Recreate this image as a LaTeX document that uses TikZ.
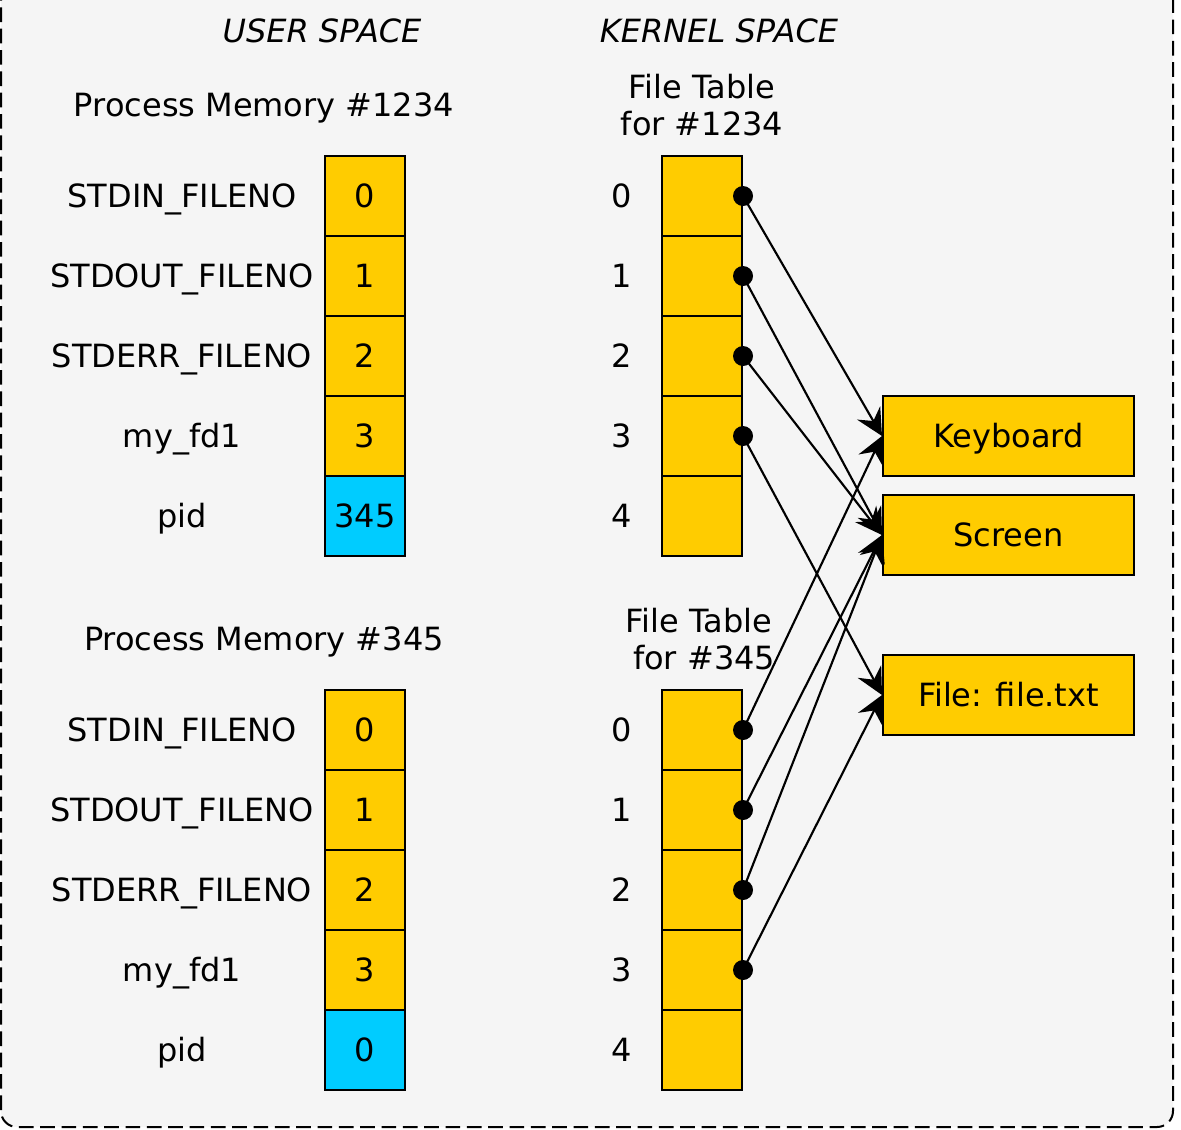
\documentclass[tikz,border=0pt]{standalone}
\usepackage{fontspec}
\setmainfont{DejaVu Sans}
\usetikzlibrary{arrows.meta}
\definecolor{bggray}{HTML}{F5F5F5}
\definecolor{cellyel}{HTML}{FFCC00}
\definecolor{cellcyan}{HTML}{00CCFF}
\tikzset{
  conn/.style={line width=1.6pt, arrows={-Stealth[length=20pt, width=20pt, inset=7pt]}}
}
\begin{document}
\begin{tikzpicture}[x=0.75pt,y=-0.75pt,
  font=\fontsize{24}{28}\selectfont,
  cell/.style={draw, line width=1.5pt, fill=cellyel, minimum width=60pt, minimum height=60pt, inner sep=0pt, text height=17.5pt, text depth=0pt},
  pidcell/.style={cell, fill=cellcyan},
  target/.style={draw, line width=1.5pt, fill=cellyel, minimum width=188.25pt, minimum height=60pt, inner sep=0pt, text height=17.5pt, text depth=0pt},
  lbl/.style={inner sep=0pt, text height=17.5pt, text depth=0pt},
  dot/.style={circle, fill=black, minimum size=15pt, inner sep=0pt}]
\useasboundingbox (0,0) rectangle (1181,1129);
\fill[white] (0,0) rectangle (1181,1129);
\draw[fill=bggray, line width=1.5pt, dash pattern=on 11pt off 5pt, rounded corners=12pt] (1,-30) rectangle (1173,1127);

% headings
\node[lbl] (us) at (322,31) {\textit{USER SPACE}};
\node[lbl] (ks) at (719,31) {\textit{KERNEL SPACE}};
\node[lbl] (pm1) at (264,105) {Process Memory \#1234};
\node[lbl] (pm2) at (264,639) {Process Memory \#345};
\node[inner sep=0pt, align=center] (ft1) at (702,105) {File Table\\for \#1234};
\node[inner sep=0pt, align=center] (ft2) at (699,639) {File Table\\\ for \#345};

% targets
\node[target] (kbd) at (1008.5,436) {Keyboard};
\node[target] (scr) at (1008.5,535) {Screen};
\node[target] (fil) at (1008.5,695) {File: file.txt};

\foreach \g/\base in {1/196, 2/730} {
  \foreach \i/\lab in {0/STDIN\_FILENO, 1/STDOUT\_FILENO, 2/STDERR\_FILENO, 3/my\_fd1, 4/pid} {
    \node[lbl] (l\g\i) at (182, {\base+80*\i}) {\lab};
    \node[cell] (k\g\i) at (702, {\base+80*\i}) {};
    \node[lbl] (n\g\i) at (622, {\base+80*\i}) {\i};
  }
  \foreach \i in {0,1,2,3} {
    \node[cell] (u\g\i) at (365, {\base+80*\i}) {\i};
  }
}
\node[pidcell] (u14) at (365,516) {345};
\node[pidcell] (u24) at (365,1050) {0};

% connectors
\foreach \g in {1,2} {
  \coordinate (d\g0) at (k\g0.east);
  \coordinate (d\g1) at (k\g1.east);
  \coordinate (d\g2) at (k\g2.east);
  \coordinate (d\g3) at (k\g3.east);
  \draw[conn] (d\g0) -- (kbd.west);
  \draw[conn] (d\g1) -- (scr.west);
  \draw[conn] (d\g2) -- (scr.west);
  \draw[conn] (d\g3) -- (fil.west);
  \foreach \i in {0,1,2,3} {
    \node[dot] (dot\g\i) at (d\g\i) {};
  }
}
\end{tikzpicture}
\end{document}
